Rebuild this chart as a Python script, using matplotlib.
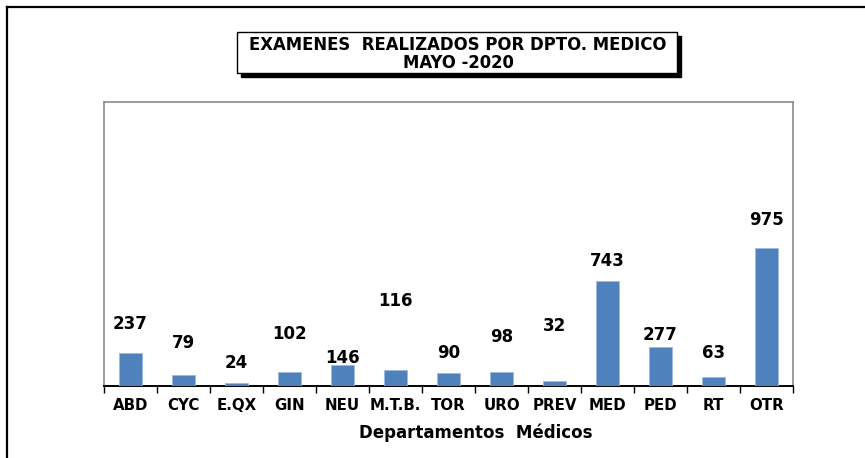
import matplotlib
matplotlib.use('Agg')
import matplotlib.pyplot as plt
from matplotlib.lines import Line2D
from matplotlib.patches import Rectangle

# =============================================================================
# Examenes realizados por departamento medico, mayo 2020
# =============================================================================
DEPTOS = ['ABD', 'CYC', 'E.QX', 'GIN', 'NEU', 'M.T.B.', 'TOR', 'URO',
          'PREV', 'MED', 'PED', 'RT', 'OTR']
EXAMENES = [237, 79, 24, 102, 146, 116, 90, 98, 32, 743, 277, 63, 975]

# altura (en unidades de datos) donde Excel dejo cada etiqueta
LABEL_Y = [439, 305, 163, 368, 198, 602, 234, 347, 425, 885, 361, 234, 1176]

W, H = 865, 458
BAR = '#4F81BD'

fig = plt.figure(figsize=(W / 100, H / 100), dpi=100)


def px(x, y):
    return x / W, 1 - y / H


# marco exterior (cortado a la derecha y abajo)
fig.add_artist(Line2D([7 / W, 1], [1 - 7 / H] * 2, color='black',
                      linewidth=1.6, transform=fig.transFigure))
fig.add_artist(Line2D([7 / W] * 2, [1 - 7 / H, 0], color='black',
                      linewidth=1.6, transform=fig.transFigure))

# caja del titulo con sombra
bx0, by0, bx1, by1 = 237, 32, 677, 73
for dx, fc in [(4, 'black'), (0, 'white')]:
    x0, y0 = px(bx0 + dx, by1 + dx)
    fig.add_artist(Rectangle((x0, y0), (bx1 - bx0) / W, (by1 - by0) / H,
                             facecolor=fc, edgecolor='black', linewidth=1.0,
                             transform=fig.transFigure))
tx, ty = px((bx0 + bx1) / 2 + 1, (by0 + by1) / 2 + 1)
fig.text(tx, ty, 'EXAMENES  REALIZADOS POR DPTO. MEDICO\nMAYO -2020',
         ha='center', va='center', fontsize=11.9, fontweight='bold',
         family='DejaVu Sans', linespacing=1.0)

ax = fig.add_axes([104 / W, 1 - 386 / H, (793 - 104) / W, (386 - 102) / H])
x = list(range(len(DEPTOS)))
ax.bar(x, EXAMENES, width=0.45, color=BAR, edgecolor='#9DBBE0',
       linewidth=0.6, zorder=3)

for xi, yl, v in zip(x, LABEL_Y, EXAMENES):
    ax.text(xi, yl, str(v), ha='center', va='center', fontsize=12,
            fontweight='bold', family='DejaVu Sans')

ax.set_xlim(-0.5, len(DEPTOS) - 0.5)
ax.set_ylim(0, 2010)
ax.set_yticks([])
ax.set_xticks(x)
ax.set_xticklabels(DEPTOS, fontsize=10.8, fontweight='bold',
                   family='DejaVu Sans')
ax.tick_params(axis='x', which='major', length=0, pad=9)
ax.set_xticks([k - 0.5 for k in range(len(DEPTOS) + 1)], minor=True)
ax.tick_params(axis='x', which='minor', length=5, width=1.0, direction='out',
               color='black')

for side in ['left', 'top', 'right']:
    ax.spines[side].set_color('#8C8C8C')
    ax.spines[side].set_linewidth(1.2)
ax.spines['bottom'].set_color('black')
ax.spines['bottom'].set_linewidth(1.4)

ax.set_xlabel('Departamentos  Médicos', fontsize=12, fontweight='bold',
              family='DejaVu Sans')
ax.xaxis.set_label_coords(0.54, -0.132)

fig.savefig('out.png', dpi=100)
